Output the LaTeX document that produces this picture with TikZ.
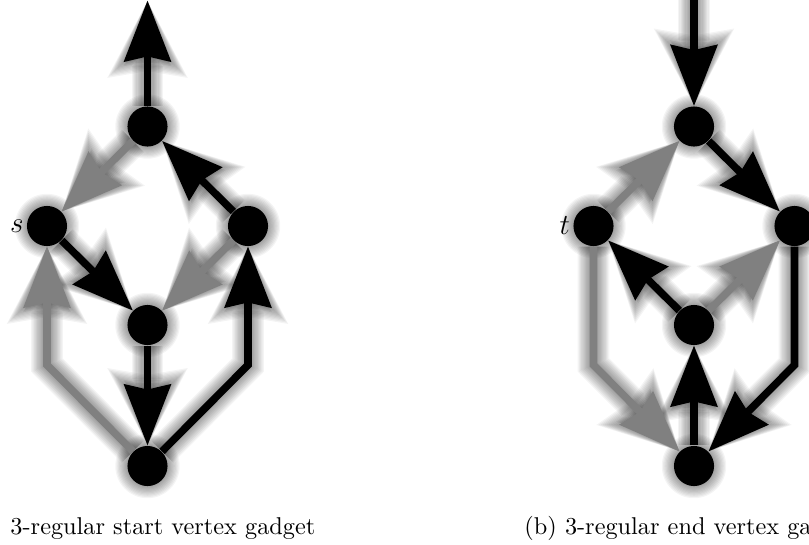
\documentclass[tikz,border=0pt]{standalone}
\usetikzlibrary{arrows.meta}
\pgfdeclarelayer{bg}
\pgfsetlayers{bg,main}
\definecolor{edgegray}{RGB}{128,128,128}
\newcommand\alledges[2]{%
  \draw[#1] (T1) -- (top1);
  \draw[#2] (T1) -- (S1);
  \draw[#1] (R1) -- (T1);
  \draw[#1] (S1) -- (M1);
  \draw[#2] (R1) -- (M1);
  \draw[#1] (M1) -- (B1);
  \draw[#2] (B1) -- (bl1) -- (S1);
  \draw[#1] (B1) -- (br1) -- (R1);
  \draw[#1] (top2) -- (T2);
  \draw[#2] (L2) -- (T2);
  \draw[#1] (T2) -- (R2);
  \draw[#1] (M2) -- (L2);
  \draw[#2] (M2) -- (R2);
  \draw[#1] (B2) -- (M2);
  \draw[#2] (L2) -- (bl2) -- (B2);
  \draw[#1] (R2) -- (br2) -- (B2);
}
\begin{document}
\begin{tikzpicture}[x=0.4115pt,y=-0.4115pt,
  vtx/.style={circle,fill=black,inner sep=0pt,minimum size=16.5pt},
  blk/.style={draw=black,line width=3.1pt,-{Stealth[length=25pt,width=19pt,inset=2pt]}},
  gry/.style={draw=edgegray,line width=3.1pt,-{Stealth[length=25pt,width=19pt,inset=2pt,fill=edgegray]}},
  glowline/.style={draw=black,opacity=0.045,line width=\lw pt,-{Stealth[length=\gl pt,width=\gw pt,inset=2pt]}},
  lbl/.style={font=\large,inner sep=1pt},
  captext/.style={anchor=base west,inner sep=0pt}]
\useasboundingbox (0,0) rectangle (809,544);
\clip (0,0) rectangle (809,544);
% left gadget
\node[vtx] (T1) at (147.5,126.5) {};
\node[vtx] (S1) at (47,226) {};
\node[vtx] (R1) at (248,226) {};
\node[vtx] (M1) at (147.5,325) {};
\node[vtx] (B1) at (147.5,466) {};
\coordinate (top1) at (147.5,0.5);
\coordinate (bl1) at (47,365);
\coordinate (br1) at (248,365);
% right gadget
\node[vtx] (T2) at (694,126.5) {};
\node[vtx] (L2) at (593.5,226) {};
\node[vtx] (R2) at (794.5,226) {};
\node[vtx] (M2) at (694,325) {};
\node[vtx] (B2) at (694,466) {};
\coordinate (top2) at (694,-10);
\coordinate (bl2) at (593.5,365);
\coordinate (br2) at (794.5,365);
% glow
\begin{pgfonlayer}{bg}
\foreach \i in {1,...,10}{
  \pgfmathsetmacro\lw{3.1+1.0*\i}
  \pgfmathsetmacro\gl{25+0.6*\i}
  \pgfmathsetmacro\gw{19+1.2*\i}
  \pgfmathsetmacro\nr{8.25+0.5*\i}
  \foreach \n in {T1,S1,R1,M1,B1,T2,L2,R2,M2,B2}
    \fill[black,opacity=0.045] (\n) circle[radius=\nr pt];
  \alledges{glowline}{glowline}
}
\end{pgfonlayer}
\alledges{blk}{gry}
% labels
\node[lbl,anchor=east] (slab) at (S1.west) {$s$};
\node[lbl,anchor=east] (tlab) at (L2.west) {$t$};
\node[captext] (capa) at (10,534) {3-regular start vertex gadget};
\node[captext] (capb) at (524,534) {(b) 3-regular end vertex gadget};
\end{tikzpicture}
\end{document}
